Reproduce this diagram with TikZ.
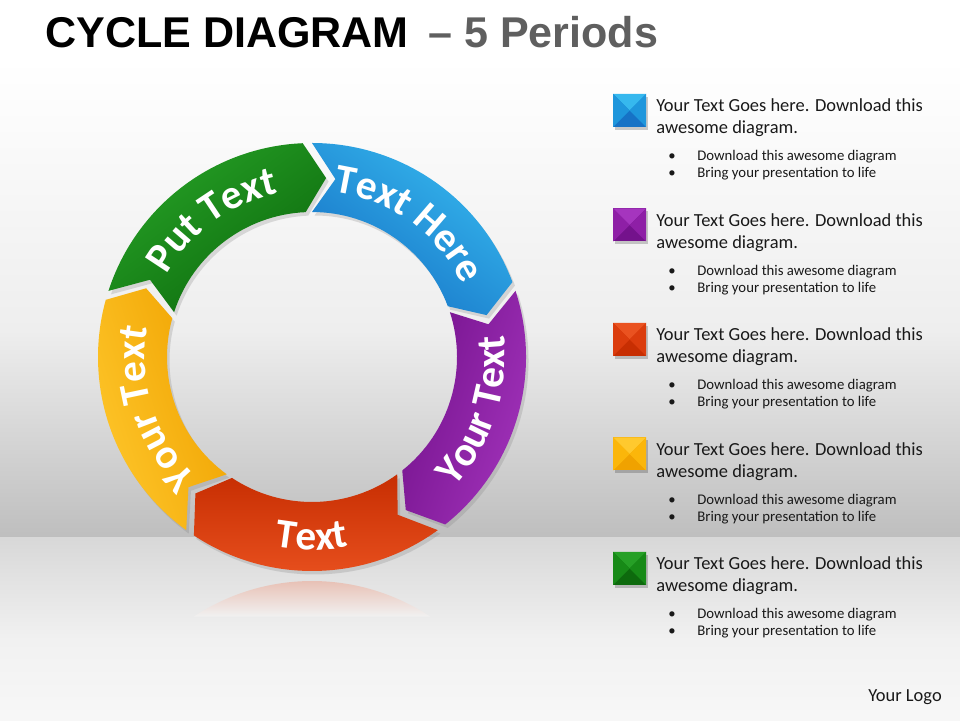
\documentclass[tikz,border=0pt]{standalone}
\usepackage{fontspec}
\usetikzlibrary{decorations.text,shadows}
\newfontfamily\calfont{Carlito}
\newfontfamily\titlefont{Liberation Sans}
\definecolor{grn}{HTML}{178A17}\definecolor{grnL}{HTML}{26A026}\definecolor{grnD}{HTML}{0D6A0D}
\definecolor{blu}{HTML}{1E96DC}\definecolor{bluL}{HTML}{36B8EE}\definecolor{bluD}{HTML}{1672C6}
\definecolor{pur}{HTML}{8E1FA6}\definecolor{purL}{HTML}{A535BE}\definecolor{purD}{HTML}{74128C}
\definecolor{org}{HTML}{DB3C0D}\definecolor{orgL}{HTML}{EA5220}\definecolor{orgD}{HTML}{C72E02}
\definecolor{yel}{HTML}{FBB60A}\definecolor{yelL}{HTML}{FFC92E}\definecolor{yelD}{HTML}{F0A200}
\definecolor{subgrey}{HTML}{5F5F5F}
\definecolor{wallmid}{HTML}{EEEEEE}
\definecolor{wallbot}{HTML}{BEBEBE}
\definecolor{floortop}{HTML}{D8D8D8}
\definecolor{floormid}{HTML}{F1F1F1}
\definecolor{refl}{HTML}{DE8C74}
\newcommand\ribbontxt{\color{white}\calfont\bfseries\fontsize{23.5}{25}\selectfont}
\begin{document}
\begin{tikzpicture}[x=0.02cm,y=0.02cm,
    ribbon/.style={drop shadow={opacity=.25,shadow xshift=.5mm,shadow yshift=-.7mm}},
    legtxt/.style={anchor=base west,inner sep=0,text=black!90,font=\calfont\fontsize{10.5}{12}\selectfont},
    bultxt/.style={anchor=base west,inner sep=0,text=black!90,font=\calfont\fontsize{8.4}{10}\selectfont}]
  \useasboundingbox (0,0) rectangle (960,720);
  % backdrop: wall and floor
  \fill[white] (0,0) rectangle (960,720);
  \shade[top color=white,bottom color=wallmid] (0,660) rectangle (960,390);
  \shade[top color=wallmid,bottom color=wallbot] (0,390) rectangle (960,182);
  \shade[top color=floortop,bottom color=floormid] (0,182) rectangle (960,80);
  \shade[top color=floormid,bottom color=white!97!black] (0,80) rectangle (960,0);
  % reflection of the bottom ribbon
  \shade[top color=refl,bottom color=floormid]
    (123.5:214) ++(312,-75) arc[start angle=123.5,end angle=56.5,radius=214] -- cycle;
  % ring of five ribbons
  \begin{scope}[shift={(312,363)}]
    \foreach \a/\col in {162/grn,90/blu,18/pur,-54/org,-126/yel}
      \shade[ribbon,top color=\col L,middle color=\col,bottom color=\col D,shading angle=\a-126]
        (\a:214) arc[start angle=\a,end angle=\a-69.5,radius=214]
        -- (\a-76.5:179.5) -- (\a-69.5:145)
        arc[start angle=\a-69.5,end angle=\a,radius=145]
        -- (\a-7.5:179.5) -- cycle;
    \path[decorate,decoration={text along path,text align=center,text={|\ribbontxt|Put Text}}]
      (162:167) arc[start angle=162,end angle=90,radius=167];
    \path[decorate,decoration={text along path,text align=center,text={|\ribbontxt|Text Here}}]
      (90:167) arc[start angle=90,end angle=18,radius=167];
    \path[decorate,decoration={text along path,text align=center,text={|\ribbontxt|Your Text}}]
      (-54:193) arc[start angle=-54,end angle=18,radius=193];
    \path[decorate,decoration={text along path,text align=center,text={|\ribbontxt|Text}}]
      (-126:193) arc[start angle=-126,end angle=-54,radius=193];
    \path[decorate,decoration={text along path,text align=center,text={|\ribbontxt|Your Text}}]
      (234:167) arc[start angle=234,end angle=162,radius=167];
  \end{scope}
  % title
  \node[anchor=base west,inner sep=0,font=\titlefont\bfseries\fontsize{24.5}{28}\selectfont] (title) at (45,672) {CYCLE DIAGRAM};
  \node[anchor=base west,inner sep=0,text=subgrey,font=\titlefont\bfseries\fontsize{24.5}{28}\selectfont] (subtitle) at (428,672) {– 5 Periods};
  % legend
  \foreach \col [count=\i from 0] in {blu,pur,org,yel,grn} {
    \pgfmathsetmacro\yy{626-114.5*\i}
    \fill[black,opacity=.2] (615,\yy-3) rectangle ++(33,-33);
    \fill[\col D] (613,\yy) rectangle ++(33,-33);
    \fill[\col L] (613,\yy) -- ++(33,0) -- ++(-16.5,-16.5) -- cycle;
    \fill[\col] (613,\yy) -- ++(0,-33) -- ++(16.5,16.5) -- cycle;
    \fill[\col] (646,\yy) -- ++(0,-33) -- ++(-16.5,16.5) -- cycle;
    \node[legtxt] (head\i) at (656,\yy-18) {Your Text Goes here. Download this};
    \node[legtxt] (next\i) at (656,\yy-40) {awesome diagram.};
    \node[bultxt] (dota\i) at (668,\yy-67) {•};
    \node[bultxt] (bula\i) at (697,\yy-67) {Download this awesome diagram};
    \node[bultxt] (dotb\i) at (668,\yy-84) {•};
    \node[bultxt] (bulb\i) at (697,\yy-84) {Bring your presentation to life};
  }
  \node[legtxt] (logo) at (868,18) {Your Logo};
\end{tikzpicture}
\end{document}
